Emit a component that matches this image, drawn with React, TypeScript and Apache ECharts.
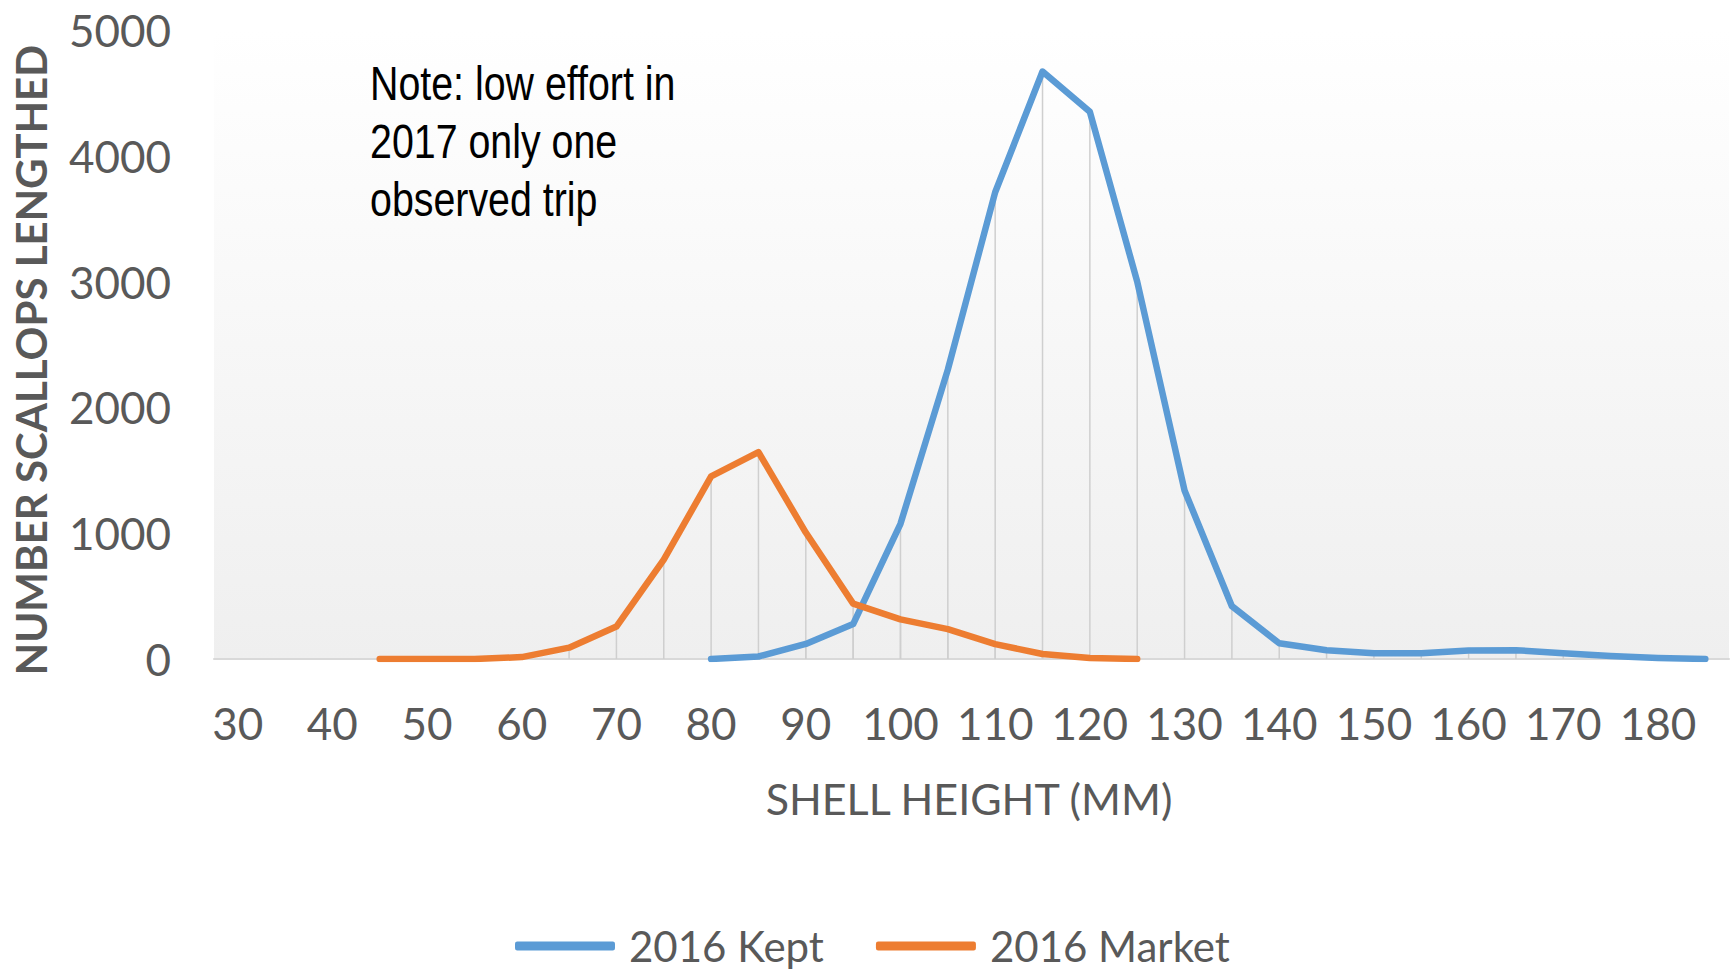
import React, { useEffect, useRef } from "react";
import * as echarts from "echarts";

const categories: string[] = [
  "30", "35", "40", "45", "50", "55", "60", "65", "70", "75",
  "80", "85", "90", "95", "100", "105", "110", "115", "120", "125",
  "130", "135", "140", "145", "150", "155", "160", "165", "170", "175",
  "180", "185",
];

const kept2016: (number | null)[] = [
  null, null, null, null, null, null, null, null, null, null,
  0, 20, 120, 278, 1075, 2300, 3710, 4670, 4350, 3000,
  1340, 420, 125, 70, 45, 45, 68, 70, 46, 24,
  8, 0,
];

const market2016: (number | null)[] = [
  null, null, null, 0, 0, 0, 15, 90, 258, 790,
  1452, 1645, 1005, 440, 315, 238, 118, 40, 8, 0,
  null, null, null, null, null, null, null, null, null, null,
  null, null,
];

const yTicks = { min: 0, max: 5000, interval: 1000 };

const seriesNames = ["2016 Kept", "2016 Market"];
const noteText = "Note: low effort in\n2017 only one\nobserved trip";
const yTitle = "NUMBER SCALLOPS LENGTHED";
const xTitle = "SHELL HEIGHT (MM)";

const FONT = "Lato, 'Open Sans', sans-serif";

function dropData(values: (number | null)[]) {
  const out: number[][] = [];
  values.forEach((v, i) => {
    if (v !== null && v !== undefined) out.push([i, v]);
  });
  return out;
}

export default function App() {
  const ref = useRef<HTMLDivElement>(null);
  useEffect(() => {
    if (!ref.current) return;
    const chart = echarts.init(ref.current, undefined, { renderer: "svg" });
    const dropRender = (params: any, api: any) => {
      const x = api.value(0);
      const v = api.value(1);
      const p = api.coord([x, v]);
      const b = api.coord([x, 0]);
      return {
        type: "line",
        shape: { x1: p[0], y1: p[1], x2: b[0], y2: b[1] },
        style: { stroke: "#cfcfcf", lineWidth: 1.5 },
      };
    };
    chart.setOption({
      animation: false,
      backgroundColor: "#ffffff",
      grid: {
        left: 214,
        right: 2,
        top: 30,
        bottom: 312,
        show: true,
        borderWidth: 0,
        backgroundColor: new echarts.graphic.LinearGradient(0, 0, 0, 1, [
          { offset: 0, color: "#ffffff" },
          { offset: 1, color: "#efefef" },
        ]),
      },
      xAxis: {
        type: "category",
        data: categories,
        boundaryGap: true,
        axisLine: { show: true, lineStyle: { color: "#d9d9d9", width: 2 } },
        axisTick: { show: false },
        axisLabel: {
          interval: 1,
          margin: 42,
          color: "#595959",
          fontFamily: FONT,
          fontSize: 44,
        },
        splitLine: { show: false },
      },
      yAxis: {
        type: "value",
        min: yTicks.min,
        max: yTicks.max,
        interval: yTicks.interval,
        axisLine: { show: false },
        axisTick: { show: false },
        splitLine: { show: false },
        axisLabel: {
          margin: 43,
          color: "#595959",
          fontFamily: FONT,
          fontSize: 44,
          formatter: (v: number) => String(v),
        },
      },
      legend: {
        data: seriesNames,
        left: 515,
        top: 925,
        padding: 0,
        icon: "roundRect",
        itemWidth: 100,
        itemHeight: 9,
        itemGap: 52,
        textStyle: {
          color: "#595959",
          fontFamily: FONT,
          fontSize: 42,
          padding: [0, 0, 0, 9],
        },
      },
      graphic: [
        {
          type: "text",
          x: 370,
          y: 54,
          scaleX: 0.82,
          style: {
            text: noteText,
            fontFamily: "'Liberation Sans', Arial, sans-serif",
            fontSize: 48,
            lineHeight: 58,
            fill: "#000000",
          },
          z: 100,
        },
        {
          type: "text",
          x: 31,
          y: 360,
          rotation: Math.PI / 2,
          style: {
            text: yTitle,
            fontFamily: FONT,
            fontWeight: "bold",
            fontSize: 42,
            fill: "#595959",
            textAlign: "center",
            textVerticalAlign: "middle",
          },
        },
        {
          type: "text",
          x: 969,
          y: 798,
          style: {
            text: xTitle,
            fontFamily: FONT,
            fontSize: 43,
            fill: "#595959",
            textAlign: "center",
            textVerticalAlign: "middle",
          },
        },
      ],
      series: [
        {
          type: "custom",
          name: "drop-kept",
          renderItem: dropRender,
          data: dropData(kept2016),
          encode: { x: 0, y: 1 },
          z: 1,
          silent: true,
        },
        {
          type: "custom",
          name: "drop-market",
          renderItem: dropRender,
          data: dropData(market2016),
          encode: { x: 0, y: 1 },
          z: 1,
          silent: true,
        },
        {
          type: "line",
          name: seriesNames[0],
          data: kept2016,
          symbol: "none",
          connectNulls: false,
          color: "#5b9bd5",
          lineStyle: { color: "#5b9bd5", width: 6.5, join: "round", cap: "round" },
          z: 3,
        },
        {
          type: "line",
          name: seriesNames[1],
          data: market2016,
          symbol: "none",
          connectNulls: false,
          color: "#ed7d31",
          lineStyle: { color: "#ed7d31", width: 6.5, join: "round", cap: "round" },
          z: 4,
        },
      ],
    });
    return () => chart.dispose();
  }, []);
  return (
    <div
      ref={ref}
      style={{ position: "fixed", left: 0, top: 0, width: 1731, height: 971 }}
    />
  );
}
